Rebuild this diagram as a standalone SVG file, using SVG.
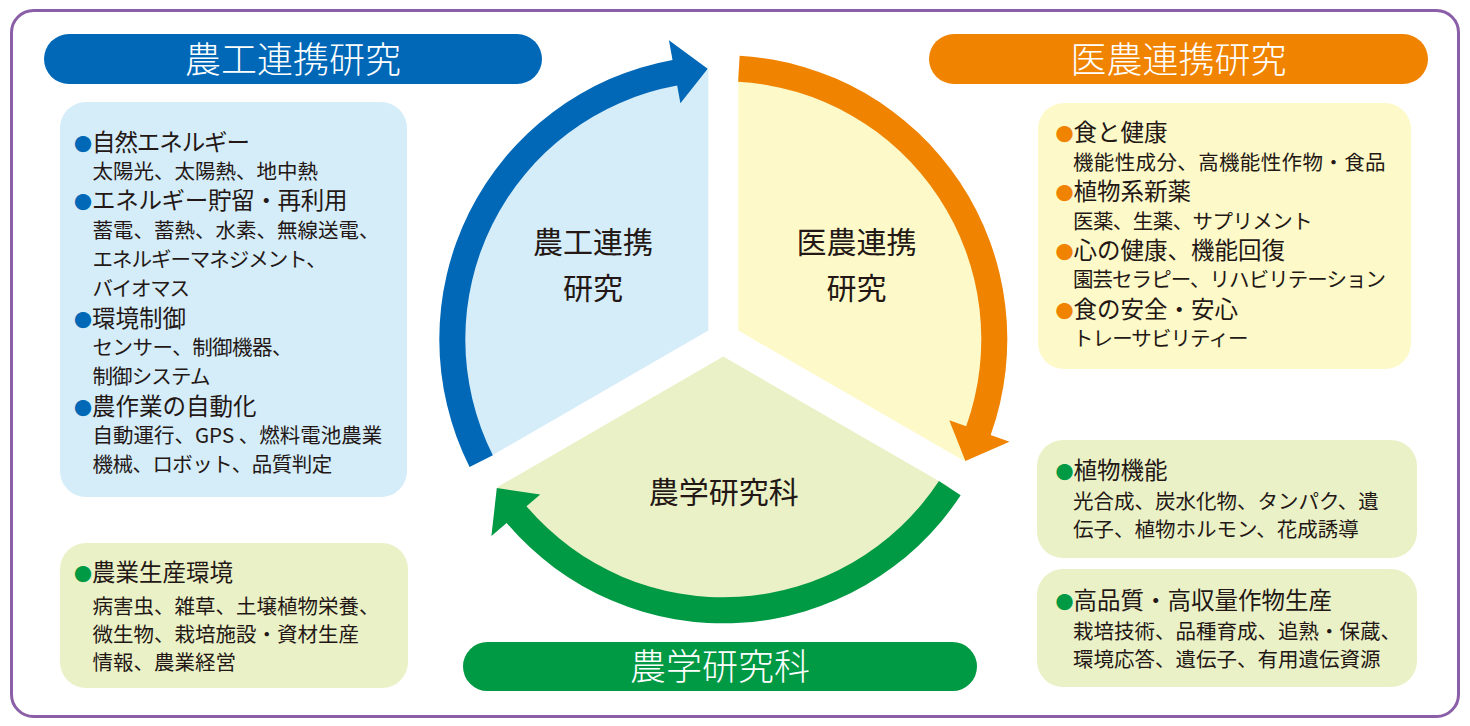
<svg xmlns="http://www.w3.org/2000/svg" width="1470" height="726" viewBox="0 0 1470 726">
<style>
text{font-family:"Noto Sans CJK JP","Noto Sans CJK SC",sans-serif;fill:#231815}
.ban{font-size:36px;fill:#fff;text-anchor:middle;font-weight:300}
.ctr{font-size:30px;text-anchor:middle}
.h{font-size:23.5px}
.s{font-size:20.5px}
.bl{font-size:18px}
.bb{fill:#0068b7}
.bo{fill:#f08300}
.bg{fill:#009944}
</style>
<rect x="11.5" y="10.5" width="1447" height="706" rx="22" fill="#fff" stroke="#8a5fa8" stroke-width="3"/>

<g id="sector-nouko">
<path d="M708.3 330.6 L708.3 69.7 A270 270 0 0 0 482.3 461.1 Z" fill="#d5ecf9"/>
<text class="ctr" x="593" y="253">農工連携</text>
<text class="ctr" x="593" y="299.3">研究</text>
</g>
<g id="sector-inou">
<path d="M738.3 330.6 L738.3 69.7 A270 270 0 0 1 964.3 461.1 Z" fill="#fdf9c8"/>
<text class="ctr" x="856.5" y="253">医農連携</text>
<text class="ctr" x="856.5" y="299.3">研究</text>
</g>
<g id="sector-nougaku">
<path d="M723.3 356.6 L949.3 487.1 A270 270 0 0 1 497.3 487.1 Z" fill="#ebf1c7"/>
<text class="ctr" x="723.7" y="503.4">農学研究科</text>
</g>

<g id="connectors">
<path d="M469.58 466.91 A284 284 0 0 1 672.52 59.88 L668.94 40.2 L707.7 68.75 L680.39 103.17 L677.17 85.46 A258 258 0 0 0 492.81 455.22 Z" fill="#0068b7"/>
<path d="M739.65 55.77 A284 284 0 0 1 990.68 435.04 L1009.51 441.78 L965.4 461.07 L949.25 420.2 L966.2 426.27 A258 258 0 0 0 738.15 81.73 Z" fill="#f08300"/>
<path d="M960.67 495.22 A284 284 0 0 1 506.66 522.99 L491.41 535.92 L496.8 488.08 L540.23 494.53 L526.5 506.17 A258 258 0 0 0 938.94 480.95 Z" fill="#009944"/>
</g>

<g id="banner-nouko">
<rect x="44" y="34" width="498" height="50" rx="25" fill="#0068b7"/>
<text class="ban" x="293" y="72.5">農工連携研究</text>
</g>
<g id="banner-inou">
<rect x="929" y="34" width="499" height="50" rx="25" fill="#f08300"/>
<text class="ban" x="1178.5" y="72.5">医農連携研究</text>
</g>
<g id="banner-nougaku">
<rect x="463" y="642" width="514" height="49" rx="24.5" fill="#009944"/>
<text class="ban" x="720" y="680">農学研究科</text>
</g>

<g id="box-nouko">
<rect x="60" y="102" width="347" height="395" rx="26" fill="#d5ecf9"/>
<text class="bl bb" x="74" y="150.6">●</text>
<text class="h" x="92" y="150.6" textLength="158">自然エネルギー</text>
<text class="s" x="92.5" y="178.8">太陽光、太陽熱、地中熱</text>
<text class="bl bb" x="74" y="209.2">●</text>
<text class="h" x="92" y="209.2" textLength="255.5">エネルギー貯留・再利用</text>
<text class="s" x="92.5" y="237.5">蓄電、蓄熱、水素、無線送電、</text>
<text class="s" x="92.5" y="266.8" textLength="234.3">エネルギーマネジメント、</text>
<text class="s" x="92.5" y="296.1" textLength="97.5">バイオマス</text>
<text class="bl bb" x="74" y="326.5">●</text>
<text class="h" x="92" y="326.5">環境制御</text>
<text class="s" x="92.5" y="354.7" textLength="200">センサー、制御機器、</text>
<text class="s" x="92.5" y="384.1" textLength="118">制御システム</text>
<text class="bl bb" x="74" y="414.5">●</text>
<text class="h" x="92" y="414.5">農作業の自動化</text>
<text class="s" x="92.5" y="442.7">自動運行、GPS 、燃料電池農業</text>
<text class="s" x="92.5" y="472" textLength="239.7">機械、ロボット、品質判定</text>
</g>

<g id="box-seisan">
<rect x="60" y="543" width="348" height="145" rx="26" fill="#ebf1c7"/>
<text class="bl bg" x="74" y="581.4">●</text>
<text class="h" x="92" y="581.4">農業生産環境</text>
<text class="s" x="92.5" y="613.6">病害虫、雑草、土壌植物栄養、</text>
<text class="s" x="92.5" y="642">微生物、栽培施設・資材生産</text>
<text class="s" x="92.5" y="670.3">情報、農業経営</text>
</g>

<g id="box-inou">
<rect x="1038" y="103" width="373" height="266" rx="26" fill="#fdf9c8"/>
<text class="bl bo" x="1055.5" y="141.4">●</text>
<text class="h" x="1073.5" y="141.4">食と健康</text>
<text class="s" x="1073" y="169.7" textLength="312.5">機能性成分、高機能性作物・食品</text>
<text class="bl bo" x="1055.5" y="200.2">●</text>
<text class="h" x="1073.5" y="200.2">植物系新薬</text>
<text class="s" x="1073" y="228.5" textLength="239.7">医薬、生薬、サプリメント</text>
<text class="bl bo" x="1055.5" y="259">●</text>
<text class="h" x="1073.5" y="259">心の健康、機能回復</text>
<text class="s" x="1073" y="287.3" textLength="313">園芸セラピー、リハビリテーション</text>
<text class="bl bo" x="1055.5" y="317.8">●</text>
<text class="h" x="1073.5" y="317.8">食の安全・安心</text>
<text class="s" x="1073" y="346.1" textLength="175.5">トレーサビリティー</text>
</g>

<g id="box-kinou">
<rect x="1037" y="440" width="380" height="118" rx="26" fill="#ebf1c7"/>
<text class="bl bg" x="1055.5" y="479.4">●</text>
<text class="h" x="1073.5" y="479.4">植物機能</text>
<text class="s" x="1073" y="508.6">光合成、炭水化物、タンパク、遺</text>
<text class="s" x="1073" y="537">伝子、植物ホルモン、花成誘導</text>
</g>

<g id="box-hinshitsu">
<rect x="1037" y="569" width="380" height="118" rx="26" fill="#ebf1c7"/>
<text class="bl bg" x="1055.5" y="609.4">●</text>
<text class="h" x="1073.5" y="609.4">高品質・高収量作物生産</text>
<text class="s" x="1073" y="638.6">栽培技術、品種育成、追熟・保蔵、</text>
<text class="s" x="1073" y="667">環境応答、遺伝子、有用遺伝資源</text>
</g>
</svg>
